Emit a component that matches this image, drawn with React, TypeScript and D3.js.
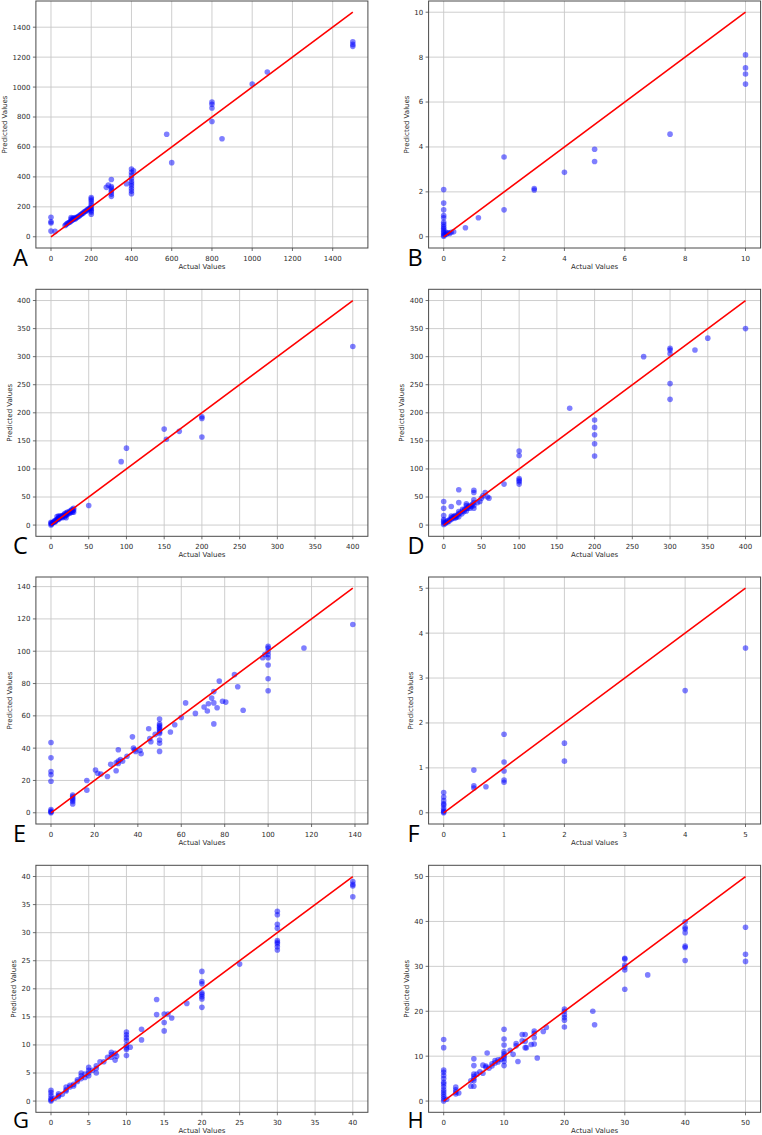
import React from 'react';
import * as d3 from 'd3';

type Pt = [number, number];

// [actual, predicted] pairs for each panel
const pointsA: Pt[] = [
  [0, 130], [0, 100], [0, 92], [0, 38], [20, 36],
  [70, 75], [75, 82], [80, 88], [85, 92], [90, 95], [95, 100], [100, 105], [100, 118], [100, 128],
  [105, 110], [110, 115], [110, 125], [115, 120], [120, 118], [120, 128], [125, 125], [130, 130],
  [135, 135], [140, 138], [145, 145], [150, 148], [155, 155], [160, 158], [165, 165], [170, 170],
  [175, 172], [180, 180], [185, 183], [190, 188], [195, 192],
  [200, 150], [200, 165], [200, 175], [200, 185], [200, 195], [200, 210], [200, 225], [200, 240], [200, 252], [200, 262],
  [275, 330], [285, 345], [300, 270], [300, 285], [300, 300], [300, 312], [300, 325], [300, 335], [300, 383],
  [375, 355], [400, 288], [400, 305], [400, 322], [400, 340], [400, 355], [400, 370], [400, 390], [400, 410], [400, 430], [400, 452], [410, 440],
  [575, 685], [600, 495], [800, 900], [800, 885], [800, 860], [800, 770], [850, 655],
  [1000, 1020], [1075, 1100], [1500, 1302], [1500, 1285], [1500, 1272],
];

const pointsB: Pt[] = [
  [0, 2.1], [0, 1.5], [0, 1.2], [0, 0.95], [0, 0.85], [0, 0.65], [0, 0.55], [0, 0.45], [0, 0.38],
  [0, 0.3], [0, 0.22], [0, 0.15], [0, 0.08], [0, 0.02], [0.05, 0.1], [0.08, 0.2], [0.1, 0.12],
  [0.15, 0.18], [0.2, 0.15], [0.25, 0.2], [0.33, 0.22], [0.72, 0.4], [1.15, 0.85],
  [2, 3.55], [2, 1.2], [3, 2.15], [3, 2.08], [4, 2.87], [5, 3.9], [5, 3.35], [7.5, 4.57],
  [10, 8.1], [10, 7.52], [10, 7.25], [10, 6.8],
];

const pointsC: Pt[] = [
  [0, 0], [0, 3], [0, 5], [1, 2], [2, 4], [3, 5], [4, 6], [5, 5], [5, 8], [6, 7], [7, 9], [8, 10],
  [8, 15], [9, 11], [10, 10], [10, 13], [10, 16], [11, 12], [12, 13], [12, 16], [13, 15], [14, 14],
  [15, 13], [15, 17], [16, 16], [17, 18], [18, 15], [18, 20], [19, 17], [20, 13], [20, 18], [20, 22],
  [21, 20], [22, 19], [22, 23], [24, 22], [25, 21], [25, 25], [26, 24], [27, 26], [28, 23], [28, 28],
  [29, 25], [30, 23], [30, 27], [30, 30],
  [50, 35], [93, 113], [100, 137], [150, 171], [153, 153], [170, 167], [200, 193], [200, 190], [200, 157], [400, 318],
];

const pointsD: Pt[] = [
  [0, 42], [0, 30], [0, 17], [0, 10], [0, 7], [0, 4], [0, 1], [2, 3], [3, 5], [5, 5], [5, 8], [7, 7],
  [8, 10], [10, 33], [10, 10], [10, 13], [10, 16], [12, 12], [13, 15], [15, 12], [15, 15], [15, 17],
  [17, 14], [18, 18], [20, 63], [20, 40], [20, 15], [20, 20], [20, 24], [22, 22], [24, 20], [25, 25],
  [25, 28], [27, 24], [28, 28], [30, 25], [30, 30], [30, 35], [30, 38], [32, 30], [33, 33], [35, 30],
  [35, 35], [37, 33], [38, 37], [40, 30], [40, 35], [40, 40], [40, 45], [40, 58], [40, 62], [45, 40],
  [48, 42], [50, 48], [52, 52], [55, 58], [58, 50], [60, 48], [80, 73],
  [100, 132], [100, 124], [100, 83], [100, 80], [100, 77], [100, 73], [167, 208],
  [200, 187], [200, 174], [200, 161], [200, 145], [200, 123], [265, 300],
  [300, 315], [300, 312], [300, 305], [300, 252], [300, 224], [333, 312], [350, 333], [400, 350],
];

const pointsE: Pt[] = [
  [0, 43.5], [0, 34], [0, 25.5], [0, 23.5], [0, 19.5], [0, 2], [0, 1], [0, 0.5], [0, 0],
  [10, 11], [10, 10], [10, 9], [10, 8], [10, 7], [10, 5.5], [16.5, 20], [16.5, 14],
  [20.5, 26.5], [21.5, 24.5], [23, 24], [26, 22.5], [27.5, 30], [30, 31], [30, 26],
  [31, 39], [31, 32], [31, 30.5], [32, 33], [33, 32], [35, 35], [37.5, 47], [38, 40], [38.5, 39],
  [39, 38], [41, 38.5], [41.5, 36.5], [45, 52], [45.5, 46], [46, 44], [48, 48.5],
  [50, 58], [50, 55], [50, 54], [50, 53], [50, 52], [50, 51], [50, 50], [50, 49], [50, 45], [50, 43], [50, 38],
  [55, 50], [57, 54.5], [60, 59], [62, 68], [66.5, 61.5], [70.5, 65.5], [72, 63], [72.5, 67.5],
  [74, 71], [75, 75], [75, 68], [75, 55], [76.5, 65], [77.5, 81.5], [79, 69], [80.5, 68.5],
  [84.5, 85.5], [86, 78], [88.5, 63.5], [97.5, 96], [98.5, 98],
  [100, 103], [100, 102], [100, 100], [100, 98], [100, 96], [100, 91.5], [100, 83], [100, 75.5],
  [116.5, 102], [139, 116.5],
];

const pointsF: Pt[] = [
  [0, 0.45], [0, 0.35], [0, 0.27], [0, 0.2], [0, 0.17], [0, 0.1], [0, 0.05], [0, 0.02], [0, 0],
  [0.5, 0.95], [0.5, 0.6], [0.5, 0.55], [0.7, 0.58],
  [1, 1.75], [1, 1.13], [1, 0.93], [1, 0.73], [1, 0.68],
  [2, 1.55], [2, 1.15], [4, 2.72], [5, 3.67],
];

const pointsG: Pt[] = [
  [0, 1.9], [0, 1.5], [0, 1], [0, 0.5], [0, 0.2], [0, 0], [0.5, 0.5], [1, 1.3], [1, 1], [1, 0.8],
  [1.5, 1.2], [2, 2.5], [2, 2], [2, 1.8], [2.5, 2.8], [2.5, 2.5], [3, 3], [3, 2.7], [3.5, 3.5],
  [3.5, 3.8], [4, 5], [4, 4.5], [4, 4], [4.5, 4.2], [4.5, 4.8], [5, 6], [5, 5.5], [5, 5], [5, 4.5],
  [5.5, 5.5], [6, 6.3], [6, 5], [6, 5.8], [6.5, 7], [7, 7], [7.5, 7.8], [8, 8.7], [8, 8.3], [8, 7.8],
  [8.5, 8.5], [8.5, 7.3], [8.7, 8],
  [10, 12.3], [10, 11.8], [10, 11.3], [10, 10.8], [10, 10], [10, 9.5], [10, 9.2], [10, 8.1],
  [10.5, 9.6], [12, 12.8], [12, 10.9], [14, 18.1], [14, 15.4], [15, 15.5], [15, 14], [15, 12.5],
  [15.5, 15.5], [16, 14.8], [18, 17.4],
  [20, 23.1], [20, 21.3], [20, 20.9], [20, 19.3], [20, 19], [20, 18.6], [20, 18.2], [20, 16.7], [25, 24.4],
  [30, 33.8], [30, 33.2], [30, 31.5], [30, 30.8], [30, 28.6], [30, 28.3], [30, 28], [30, 27.5], [30, 26.9],
  [40, 39.1], [40, 38.6], [40, 38.3], [40, 36.4],
];

const pointsH: Pt[] = [
  [0, 13.7], [0, 11.9], [0, 6.9], [0, 6.4], [0, 5.7], [0, 5], [0, 4.2], [0, 3.8], [0, 3.2], [0, 2.5],
  [0, 2], [0, 1.5], [0, 1], [0, 0.5], [0, 0], [0.5, 0.4], [2, 3.1], [2, 2.5], [2, 2], [2, 1.6], [2.5, 1.8],
  [4.5, 3.3], [4.5, 4.5], [5, 9.4], [5, 7.9], [5, 6], [5, 5.5], [5, 5], [5, 4.5], [5, 3.3], [5.5, 6],
  [6, 6.5], [6.5, 8], [6.5, 6.2], [7, 7.5], [7, 7.8], [7.2, 10.7], [7.5, 7.3], [8, 7.8], [8, 8.3],
  [8.5, 9], [8.5, 8.5], [9, 8.7], [9, 9.2], [9.5, 9.3],
  [10, 16], [10, 13.8], [10, 12.5], [10, 11], [10, 10.5], [10, 10], [10, 9.5], [10, 8.8], [10, 7.9],
  [11, 11.3], [11.5, 10.4], [12, 12.8], [12, 12.3], [12.3, 8.8], [13, 14.8], [13, 13.4],
  [13.5, 14.8], [13.5, 13.3], [13.5, 11.9], [13.7, 11.9], [14.5, 12.6],
  [15, 15.6], [15, 15.1], [15, 14.1], [15, 12.7], [15.5, 9.6], [16.5, 15.5], [17, 16.4],
  [20, 20.5], [20, 20], [20, 19.2], [20, 18.6], [20, 18], [20, 16.5], [24.7, 20], [25, 17],
  [30, 31.8], [30, 31.6], [30, 30.3], [30, 29.8], [30, 29.2], [30, 24.9], [33.8, 28.1],
  [40, 39.9], [40, 38.7], [40, 38.3], [40, 37.5], [40, 34.5], [40, 34.2], [40, 31.3],
  [50, 38.7], [50, 32.7], [50, 31.1],
];

// axis ticks (same on x and y) and upper end of the identity line
const ticksA = [0, 200, 400, 600, 800, 1000, 1200, 1400];
const ticksB = [0, 2, 4, 6, 8, 10];
const ticksC = [0, 50, 100, 150, 200, 250, 300, 350, 400];
const ticksD = [0, 50, 100, 150, 200, 250, 300, 350, 400];
const ticksE = [0, 20, 40, 60, 80, 100, 120, 140];
const ticksF = [0, 1, 2, 3, 4, 5];
const ticksG = [0, 5, 10, 15, 20, 25, 30, 35, 40];
const ticksH = [0, 10, 20, 30, 40, 50];
const lineMax = [1500, 10, 400, 400, 139, 5, 40, 50];
const letters = ['A', 'B', 'C', 'D', 'E', 'F', 'G', 'H'];

const panels = [
  { pts: pointsA, ticks: ticksA },
  { pts: pointsB, ticks: ticksB },
  { pts: pointsC, ticks: ticksC },
  { pts: pointsD, ticks: ticksD },
  { pts: pointsE, ticks: ticksE },
  { pts: pointsF, ticks: ticksF },
  { pts: pointsG, ticks: ticksG },
  { pts: pointsH, ticks: ticksH },
].map((p, i) => ({ ...p, max: lineMax[i], letter: letters[i] }));

const W = 762;
const H = 1135;
const FW = 332;
const FH = 247;
const colLeft = [35.9, 428.6];
const rowTop = [1, 289.3, 577, 865.3];
const FONT = 'DejaVu Sans, sans-serif';

function Panel({ p, left, top, last }: { p: any; left: number; top: number; last: boolean }) {
  const pad = p.max * 0.05;
  const x = d3.scaleLinear().domain([-pad, p.max + pad]).range([left, left + FW]);
  const y = d3.scaleLinear().domain([-pad, p.max + pad]).range([top + FH, top]);
  const line = d3.line<number>().x(d => x(d)).y(d => y(d));
  const maxLen = d3.max(p.ticks as number[], t => String(t).length) || 1;
  const ylabX = left - (11 + 4.4 * maxLen);
  const bottom = top + FH;

  return (
    <g>
      {/* grid */}
      {p.ticks.map((t: number) => (
        <g key={'g' + t} stroke="#c8c8c8" strokeWidth={0.9}>
          <line x1={x(t)} x2={x(t)} y1={top} y2={bottom} />
          <line x1={left} x2={left + FW} y1={y(t)} y2={y(t)} />
        </g>
      ))}
      {/* scatter */}
      {p.pts.map((d: Pt, i: number) => (
        <circle key={i} cx={x(d[0])} cy={y(d[1])} r={2.8} fill="#0000ff" fillOpacity={0.5} />
      ))}
      {/* identity line */}
      <path d={line([0, p.max]) || ''} stroke="#ff0000" strokeWidth={1.6} fill="none" />
      {/* frame */}
      <rect x={left} y={top} width={FW} height={FH} fill="none" stroke="#4a4a4a" strokeWidth={1} />
      {/* ticks and tick labels */}
      {p.ticks.map((t: number) => (
        <g key={'t' + t} fontFamily={FONT} fontSize={7} fill="#2a2a2a">
          <line x1={x(t)} x2={x(t)} y1={bottom} y2={bottom + 3} stroke="#4a4a4a" strokeWidth={0.8} />
          <text x={x(t)} y={bottom + 12.5} textAnchor="middle">{t}</text>
          <line x1={left - 3} x2={left} y1={y(t)} y2={y(t)} stroke="#4a4a4a" strokeWidth={0.8} />
          <text x={left - 5.5} y={y(t)} dy="0.35em" textAnchor="end">{t}</text>
        </g>
      ))}
      <text x={left + FW / 2} y={bottom + 20.5} textAnchor="middle" fontFamily={FONT} fontSize={7} fill="#2a2a2a">
        Actual Values
      </text>
      <text transform={`translate(${ylabX},${top + FH / 2}) rotate(-90)`} textAnchor="middle"
        fontFamily={FONT} fontSize={7} fill="#2a2a2a">
        Predicted Values
      </text>
      <text x={left < 100 ? 13 : 407.5} y={bottom + (last ? 15.5 : 18)} fontFamily="Open Sans, sans-serif"
        fontSize={last ? 22 : 23.5} fill="#000">
        {p.letter}
      </text>
    </g>
  );
}

export default function App() {
  return (
    <div style={{ position: 'absolute', left: 0, top: 0 }}>
      <svg width={W} height={H} style={{ display: 'block', background: '#fff' }}>
        {panels.map((p, i) => (
          <Panel key={p.letter} p={p} left={colLeft[i % 2]} top={rowTop[Math.floor(i / 2)]} last={i >= 6} />
        ))}
      </svg>
    </div>
  );
}
